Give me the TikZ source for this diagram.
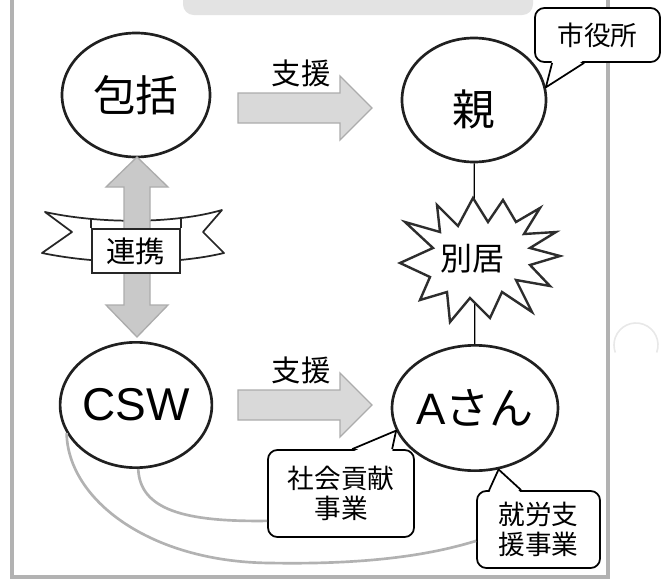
\documentclass[tikz,border=0pt]{standalone}
\usepackage{fontspec}
\setmainfont{Noto Sans CJK JP}
\newfontfamily\latinfont{Liberation Sans}
\usetikzlibrary{shapes.geometric,calc}
\begin{document}
\begin{tikzpicture}[x=0.75pt,y=-0.75pt,
  circ/.style={ellipse, draw=gray!25!black, line width=2pt, fill=white, inner sep=0pt},
  callout/.style={draw=black, line width=1.3pt, rounded corners=7pt, fill=white, align=center, inner sep=0pt},
  ptr/.style={draw=black, line width=1.3pt, line join=round},
  blockarrow/.style={fill=gray!30, draw=gray!65, line width=1pt},
  dblarrow/.style={fill=gray!42, draw=gray!65, line width=1pt},
  ribbon/.style={fill=white, draw=gray!30!black, line width=1.3pt, line join=round},
  burst/.style={fill=white, draw=gray!35!black, line width=1.8pt, line join=miter},
  link/.style={draw=black, line width=0.9pt},
  curve/.style={draw=gray!60, line width=2pt},
  frame/.style={draw=gray!60, line width=2.6pt},
  big/.style={font=\fontsize{32pt}{36pt}\selectfont},
  mid/.style={font=\fontsize{22pt}{26pt}\selectfont},
  small/.style={font=\fontsize{20pt}{23pt}\selectfont},
]
\useasboundingbox (0,0) rectangle (669,582);

% top band and frame
\fill[gray!22, rounded corners=8pt] (183,-12) rectangle (533,15);
\draw[frame] (12,0) -- (12,577) -- (608,577) -- (608,0);
\draw[gray!18, line width=1.2pt] ([shift={(20:22)}]636,345) arc[start angle=20, end angle=-200, radius=22];

% circles
\node[circ, minimum width=111pt, minimum height=93pt, big] (hokatsu) at (136,95) {包括};
\node[circ, minimum width=108pt, minimum height=93pt] (oya) at (474,100) {};
\node[big] (oyatext) at (474,109) {親};
\node[circ, minimum width=111pt, minimum height=94pt, font=\latinfont\fontsize{34.5pt}{40pt}\selectfont] (csw) at (136,405) {CSW};
\node[circ, minimum width=108pt, minimum height=94pt, font=\fontsize{33pt}{40pt}\selectfont] (asan) at (475,408) {{\latinfont A}さん};

% link between oya and A-san (behind the burst)
\draw[link] (oya) -- (asan);

% support arrows
\draw[blockarrow] (238,93) -- (340,93) -- (340,76) -- (372,108) -- (340,140) -- (340,123) -- (238,123) -- cycle;
\node[mid] (shien1) at (301,73) {支援};
\draw[blockarrow] (238,390) -- (340,390) -- (340,373) -- (372,405) -- (340,437) -- (340,420) -- (238,420) -- cycle;
\node[mid] (shien2) at (301,370) {支援};

% ribbon band, double arrow, box
\draw[ribbon] (45,212) .. controls (100,224) and (174,224) .. (222,210) -- (203,232) -- (224,253) .. controls (174,265) and (100,265) .. (42,253) -- (72,232) -- cycle;
\draw[dblarrow] (137,157) -- (168,187) -- (150,187) -- (150,305) -- (168,305) -- (137,337) -- (106,305) -- (124,305) -- (124,187) -- (106,187) -- cycle;
\node[draw=gray!30!black, line width=1.3pt, fill=white, minimum width=66pt, minimum height=33pt, inner sep=0pt, mid] (renkei) at (136,251) {連携};
\draw[ribbon] (renkei.north west) -- ++(0,-9);
\draw[ribbon] (renkei.north east) -- ++(0,-9);

% burst
\draw[burst] (473,198) -- (488,222) -- (503,200) -- (516,222) -- (540,208) -- (524,234) -- (556,232) -- (530,248) -- (560,256) -- (530,265) -- (550,286) -- (516,280) -- (532,312) -- (502,292) -- (490,318) -- (470,298) -- (450,322) -- (447,292) -- (420,300) -- (430,277) -- (400,263) -- (433,248) -- (405,222) -- (440,232) -- (437,205) -- (458,226) -- cycle;
\node[font=\fontsize{24pt}{28pt}\selectfont] (bekkyo) at (472,259) {別居};

% callouts
\node[callout, small, minimum width=93.75pt, minimum height=40.5pt] (shiyaku) at (597.5,35) {市役所};
\fill[white] ($(shiyaku.south west)+(18,-3)$) -- (oya.10) -- ($(shiyaku.south west)+(50,-3)$) -- cycle;
\draw[ptr] ($(shiyaku.south west)+(18,0)$) -- (oya.10) -- ($(shiyaku.south west)+(50,0)$);

\node[callout, small, minimum width=109.5pt, minimum height=65.25pt] (shakai) at (341,493.5) {社会貢献\\事業};
\fill[white] ($(shakai.north west)+(85,3)$) -- (asan.196) -- ($(shakai.north west)+(125,3)$) -- cycle;
\draw[ptr] ($(shakai.north west)+(85,0)$) -- (asan.196) -- ($(shakai.north west)+(125,0)$);

\node[callout, small, minimum width=92.25pt, minimum height=57.75pt] (shuro) at (538.5,529.5) {就労支\\援事業};
\fill[white] ($(shuro.north west)+(13,3)$) -- (asan.291) -- ($(shuro.north west)+(45,3)$) -- cycle;
\draw[ptr] ($(shuro.north west)+(13,0)$) -- (asan.291) -- ($(shuro.north west)+(45,0)$);

% curves from CSW to the projects
\draw[curve] (csw.272) .. controls (140,510) and (185,522) .. ($(shakai.south west)+(0,-17)$);
\draw[curve] (csw.202) .. controls (68,500) and (150,562) .. (270,563) .. controls (380,565) and (440,552) .. ($(shuro.south west)+(0,-28)$);
\end{tikzpicture}
\end{document}
